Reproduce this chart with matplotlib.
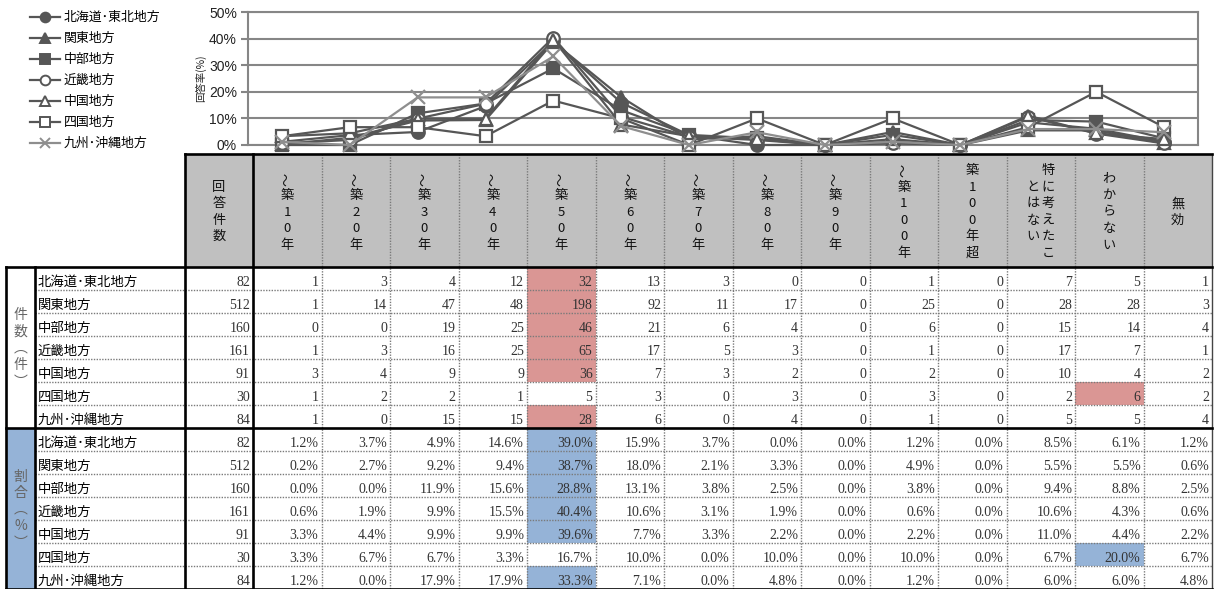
import matplotlib
matplotlib.use('Agg')
import matplotlib.pyplot as plt
from matplotlib.patches import Rectangle

plt.rcParams['font.family'] = ['Noto Sans CJK JP', 'DejaVu Sans']

# 地方区分
regions = ['北海道･東北地方', '関東地方', '中部地方', '近畿地方',
           '中国地方', '四国地方', '九州･沖縄地方']

# 表の見出し（先頭は回答件数）
headers = ['回答件数', '～築10年', '～築20年', '～築30年', '～築40年', '～築50年',
           '～築60年', '～築70年', '～築80年', '～築90年', '～築100年', '築100年超',
           '特に考えたことはない', 'わからない', '無効']

totals = [82, 512, 160, 161, 91, 30, 84]

# 件数
counts = [
    [1, 3, 4, 12, 32, 13, 3, 0, 0, 1, 0, 7, 5, 1],
    [1, 14, 47, 48, 198, 92, 11, 17, 0, 25, 0, 28, 28, 3],
    [0, 0, 19, 25, 46, 21, 6, 4, 0, 6, 0, 15, 14, 4],
    [1, 3, 16, 25, 65, 17, 5, 3, 0, 1, 0, 17, 7, 1],
    [3, 4, 9, 9, 36, 7, 3, 2, 0, 2, 0, 10, 4, 2],
    [1, 2, 2, 1, 5, 3, 0, 3, 0, 3, 0, 2, 6, 2],
    [1, 0, 15, 15, 28, 6, 0, 4, 0, 1, 0, 5, 5, 4],
]

# 割合(%)
ratios = [
    [1.2, 3.7, 4.9, 14.6, 39.0, 15.9, 3.7, 0.0, 0.0, 1.2, 0.0, 8.5, 6.1, 1.2],
    [0.2, 2.7, 9.2, 9.4, 38.7, 18.0, 2.1, 3.3, 0.0, 4.9, 0.0, 5.5, 5.5, 0.6],
    [0.0, 0.0, 11.9, 15.6, 28.8, 13.1, 3.8, 2.5, 0.0, 3.8, 0.0, 9.4, 8.8, 2.5],
    [0.6, 1.9, 9.9, 15.5, 40.4, 10.6, 3.1, 1.9, 0.0, 0.6, 0.0, 10.6, 4.3, 0.6],
    [3.3, 4.4, 9.9, 9.9, 39.6, 7.7, 3.3, 2.2, 0.0, 2.2, 0.0, 11.0, 4.4, 2.2],
    [3.3, 6.7, 6.7, 3.3, 16.7, 10.0, 0.0, 10.0, 0.0, 10.0, 0.0, 6.7, 20.0, 6.7],
    [1.2, 0.0, 17.9, 17.9, 33.3, 7.1, 0.0, 4.8, 0.0, 1.2, 0.0, 6.0, 6.0, 4.8],
]

# 系列ごとの線・マーカー
dark = '#565656'
light = '#8e8e8e'
styles = [
    ('o', dark, dark), ('^', dark, dark), ('s', dark, dark),
    ('o', dark, 'white'), ('^', dark, 'white'), ('s', dark, 'white'),
    ('x', light, light),
]

W, H = 1215, 589
fig = plt.figure(figsize=(W / 100, H / 100), dpi=100)

# 表は画素座標で描く
tab = fig.add_axes([0, 0, 1, 1])
tab.set_xlim(0, W)
tab.set_ylim(H, 0)
tab.axis('off')

# ---- 折れ線グラフ ----
px0, px1, py0, py1 = 248, 1198, 12, 145
ax = fig.add_axes([px0 / W, 1 - py1 / H, (px1 - px0) / W, (py1 - py0) / H])
ax.set_zorder(3)
xs = list(range(len(ratios[0])))
for i, name in enumerate(regions):
    m, c, fc = styles[i]
    ax.plot(xs, ratios[i], color=c, lw=1.6, marker=m,
            ms=10 if m == 'x' else 9, mfc=fc, mec=c, mew=1.6,
            clip_on=False, zorder=3 + i)
ax.set_xlim(-0.5, len(xs) - 0.5)
ax.set_ylim(0, 50)
ax.set_xticks([])
ax.set_yticks(range(0, 51, 10))
ax.set_yticklabels([f'{v}%' for v in range(0, 51, 10)],
                   family='Liberation Sans', fontsize=10, color='#222222')
ax.tick_params(axis='y', length=5, width=1.5, color='#868686', pad=3)
ax.yaxis.grid(True, color='#868686', lw=1.5)
ax.set_axisbelow(True)
for s in ax.spines.values():
    s.set_color('#868686')
    s.set_linewidth(1.5)
ax.set_ylabel('回答率(%)', fontsize=7.5, color='#222222', labelpad=2)

# 凡例
for i, name in enumerate(regions):
    m, c, fc = styles[i]
    y = 17 + 21 * i
    tab.plot([30, 60], [y, y], color=c, lw=1.6)
    tab.plot([45], [y], marker=m, ms=7.5 if m == 'x' else 7, mfc=fc, mec=c,
             mew=1.4, color=c)
    tab.text(64, y, name, fontsize=9.3, va='center', ha='left', color='#000000')

# ---- 表 ----
xg0, xg1, xn1, xt1, xr = 6, 35, 185, 253, 1212
ncol = len(counts[0])
cw = (xr - xt1) / ncol
col_l = [xn1, xt1] + [xt1 + cw * (k + 1) for k in range(ncol)]
col_l = col_l[:-1]
col_r = [xt1] + [xt1 + cw * (k + 1) for k in range(ncol)]
hy0, hy1 = 154, 267
rh = 23.0
nreg = len(regions)

# 見出し背景
tab.add_patch(Rectangle((xn1, hy0), xr - xn1, hy1 - hy0, fc='#c0c0c0', ec='none'))
# 割合欄の左見出し
tab.add_patch(Rectangle((xg0, hy1 + rh * nreg), xg1 - xg0, rh * nreg,
                        fc='#95b3d7', ec='none'))

# 最大値セルの色付け
for i in range(nreg):
    jc = max(range(ncol), key=lambda k: counts[i][k])
    jr = max(range(ncol), key=lambda k: ratios[i][k])
    tab.add_patch(Rectangle((xt1 + cw * jc, hy1 + rh * i), cw, rh,
                            fc='#da9694', ec='none'))
    tab.add_patch(Rectangle((xt1 + cw * jr, hy1 + rh * (nreg + i)), cw, rh,
                            fc='#95b3d7', ec='none'))

# 見出し文字（縦書き）
def vtext(cx, chars, cy=212, step=16.5):
    top = cy - step * (len(chars) - 1) / 2
    for k, ch in enumerate(chars):
        tab.text(cx, top + step * k, ch, fontsize=9.5, ha='center', va='center',
                 rotation=90 if ch == '～' else 0, color='#111111')

for j, h in enumerate(headers):
    cx = (col_l[j] + col_r[j]) / 2
    parts = [h[k:k + 6] for k in range(0, len(h), 6)]
    off = 15 * (len(parts) - 1) / 2
    for p, part in enumerate(parts):
        vtext(cx + off - 15 * p, part)

# 数値
bottom_y = hy1 + rh * nreg * 2
for sec in range(2):
    for i in range(nreg):
        yb = hy1 + rh * (sec * nreg + i + 1)
        tab.text(38, yb - 4, regions[i], fontsize=9.6, ha='left', va='baseline',
                 color='#000000')
        tab.text(col_r[0] - 3, yb - 4, str(totals[i]), family='Liberation Serif',
                 fontsize=10, ha='right', va='baseline', color='#333333')
        for k in range(ncol):
            v = counts[i][k] if sec == 0 else f'{ratios[i][k]:.1f}%'
            tab.text(col_r[k + 1] - 3, yb - 4, str(v), family='Liberation Serif',
                     fontsize=10, ha='right', va='baseline', color='#333333')

# 左の区分見出し
for sec, label in enumerate(['件数︵件︶', '割合︵%︶']):
    cy = hy1 + rh * (sec * nreg + nreg / 2) + 1
    step = 16.5
    top = cy - step * (len(label) - 1) / 2
    for k, ch in enumerate(label):
        tab.text((xg0 + xg1) / 2, top + step * k, ch, fontsize=10, ha='center',
                 va='center', color='#666666')

# 罫線
dot = dict(color='#7a7a7a', lw=1.0, ls=(0, (1, 1)))
thick = dict(color='black', lw=1.9, solid_capstyle='projecting')
for r in range(1, nreg * 2):
    if r == nreg:
        continue
    y = hy1 + rh * r
    tab.plot([xg1, xr], [y, y], **dot)
for k in range(1, ncol):
    x = xt1 + cw * k
    tab.plot([x, x], [hy0, bottom_y], **dot)
tab.plot([xr, xr], [hy0, bottom_y], color='#444444', lw=1.0)
tab.plot([xn1, xr], [hy0, hy0], **thick)
for y in (hy1, hy1 + rh * nreg, bottom_y):
    tab.plot([xg0, xr], [y, y], **thick)
for x in (xn1, xt1):
    tab.plot([x, x], [hy0, bottom_y], **thick)
for x in (xg0, xg1):
    tab.plot([x, x], [hy1, bottom_y], **thick)

fig.savefig('out.png', dpi=100)
